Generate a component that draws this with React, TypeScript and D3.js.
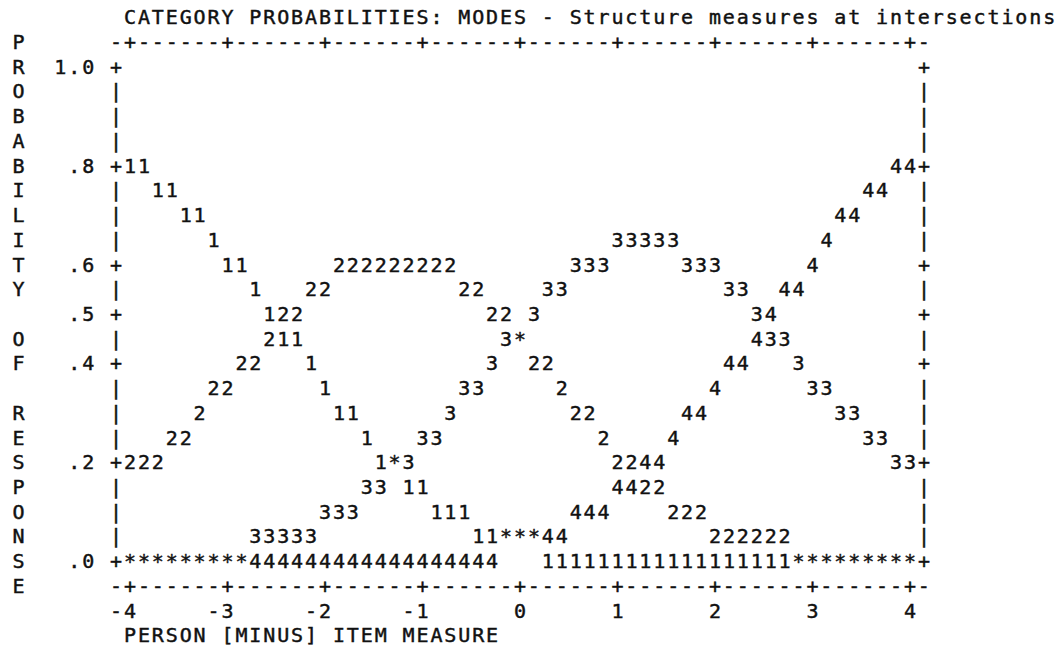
import React from 'react';
import * as d3 from 'd3';

// ---------- data ----------
const TITLE = 'CATEGORY PROBABILITIES: MODES - Structure measures at intersections';
const X_TITLE = 'PERSON [MINUS] ITEM MEASURE';
const Y_TITLE = 'PROBABILITY OF RESPONSE';
const xTicks = [-4, -3, -2, -1, 0, 1, 2, 3, 4];
const xTickLabels = ['-4', '-3', '-2', '-1', '0', '1', '2', '3', '4'];
const yTicks = [1.0, 0.8, 0.6, 0.5, 0.4, 0.2, 0.0];
const yTickLabels = ['1.0', '.8', '.6', '.5', '.4', '.2', '.0'];
const STEPS_PER_UNIT = 7; // character cells per logit
const P_STEP = 0.05; // probability per text row

// plotted category symbols: [probability, step from -4 (1/7 logit), symbols]
const curveRuns: [number, number, string][] = [
  [0.8, 0, '11'], [0.8, 55, '44'],
  [0.75, 2, '11'], [0.75, 53, '44'],
  [0.7, 4, '11'], [0.7, 51, '44'],
  [0.65, 6, '1'], [0.65, 35, '33333'], [0.65, 50, '4'],
  [0.6, 7, '11'], [0.6, 15, '222222222'], [0.6, 32, '333'], [0.6, 40, '333'], [0.6, 49, '4'],
  [0.55, 9, '1'], [0.55, 13, '22'], [0.55, 24, '22'], [0.55, 30, '33'], [0.55, 43, '33'], [0.55, 47, '44'],
  [0.5, 10, '122'], [0.5, 26, '22'], [0.5, 29, '3'], [0.5, 45, '34'],
  [0.45, 10, '211'], [0.45, 27, '3*'], [0.45, 45, '433'],
  [0.4, 8, '22'], [0.4, 13, '1'], [0.4, 26, '3'], [0.4, 29, '22'], [0.4, 43, '44'], [0.4, 48, '3'],
  [0.35, 6, '22'], [0.35, 14, '1'], [0.35, 24, '33'], [0.35, 31, '2'], [0.35, 42, '4'], [0.35, 49, '33'],
  [0.3, 5, '2'], [0.3, 15, '11'], [0.3, 23, '3'], [0.3, 32, '22'], [0.3, 40, '44'], [0.3, 51, '33'],
  [0.25, 3, '22'], [0.25, 17, '1'], [0.25, 21, '33'], [0.25, 34, '2'], [0.25, 39, '4'], [0.25, 53, '33'],
  [0.2, 0, '222'], [0.2, 18, '1*3'], [0.2, 35, '2244'], [0.2, 55, '33'],
  [0.15, 17, '33'], [0.15, 20, '11'], [0.15, 35, '4422'],
  [0.1, 14, '333'], [0.1, 22, '111'], [0.1, 32, '444'], [0.1, 39, '222'],
  [0.05, 9, '33333'], [0.05, 25, '11***44'], [0.05, 42, '222222'],
  [0.0, 0, '*********444444444444444444'], [0.0, 30, '111111111111111111*********'],
];

// ---------- layout ----------
const W = 1059;
const H = 649;
const FS = 20;
const ADV = FS * 0.6021;
const FONT = '"DejaVu Sans Mono", monospace';

export default function App() {
  const x = d3.scaleLinear().domain([-4, 4]).range([130, 910]);
  const cellW = (x(1) - x(0)) / STEPS_PER_UNIT;
  const rowY = d3.scaleLinear().domain([0, 25]).range([17, 635]);
  const y = d3.scaleLinear().domain([0, 1]).range([rowY(22), rowY(2)]);
  const rowH = rowY(1) - rowY(0);
  const [x0, x1] = x.domain();
  const leftX = x(x0) - cellW;
  const rightX = x(x1) + cellW;

  const T = (cx: number, cy: number, s: string, key: string) => (
    <text
      key={key}
      x={cx - ADV / 2}
      y={cy + FS * 0.365}
      style={{ letterSpacing: `${cellW - ADV}px`, whiteSpace: 'pre' }}
    >
      {s}
    </text>
  );

  // ruler text built from ticks
  const nCells = Math.round((rightX - leftX) / cellW) + 1;
  const tickCells = new Set(xTicks.map((t) => Math.round((x(t) - leftX) / cellW)));
  const ruler = d3.range(nCells).map((i) => (tickCells.has(i) ? '+' : '-')).join('');

  // border rows
  const pRows = d3.range(0, 1 + 1e-9, P_STEP).map((p) => +p.toFixed(2));
  const isTick = (p: number) => yTicks.some((t) => Math.abs(t - p) < 1e-6);

  const yTitleTop = y(1) - 1 * rowH;

  return (
    <svg
      width={W}
      height={H}
      style={{ position: 'absolute', left: 0, top: 0, background: '#fff' }}
      fontFamily={FONT}
      fontSize={FS}
      fill="#111"
      stroke="#111"
      strokeWidth={0.45}
    >
      <rect width={W} height={H} fill="#fff" stroke="none" />
      {T(x(x0), rowY(0), TITLE, 'title')}
      {Y_TITLE.split('').map((ch, i) =>
        ch === ' ' ? null : T(leftX - 7 * cellW, yTitleTop + i * rowH, ch, 'yt' + i)
      )}
      {T(leftX, y(1) - rowH, ruler, 'rulerTop')}
      {T(leftX, y(0) + rowH, ruler, 'rulerBot')}
      {pRows.map((p) => {
        const c = isTick(p) ? '+' : '|';
        return (
          <g key={'b' + p}>
            {T(leftX, y(p), c, 'l')}
            {T(rightX, y(p), c, 'r')}
          </g>
        );
      })}
      {yTicks.map((t, i) =>
        T(leftX - (yTickLabels[i].length + 1) * cellW, y(t), yTickLabels[i], 'yl' + i)
      )}
      {xTicks.map((t, i) =>
        T(x(t) - (xTickLabels[i].length - 1) * cellW, y(0) + 2 * rowH, xTickLabels[i], 'xl' + i)
      )}
      {T(x(x0), y(0) + 3 * rowH, X_TITLE, 'xtitle')}
      {curveRuns.map(([p, step, s], i) => T(x(x0 + step / STEPS_PER_UNIT), y(p), s, 'c' + i))}
    </svg>
  );
}
